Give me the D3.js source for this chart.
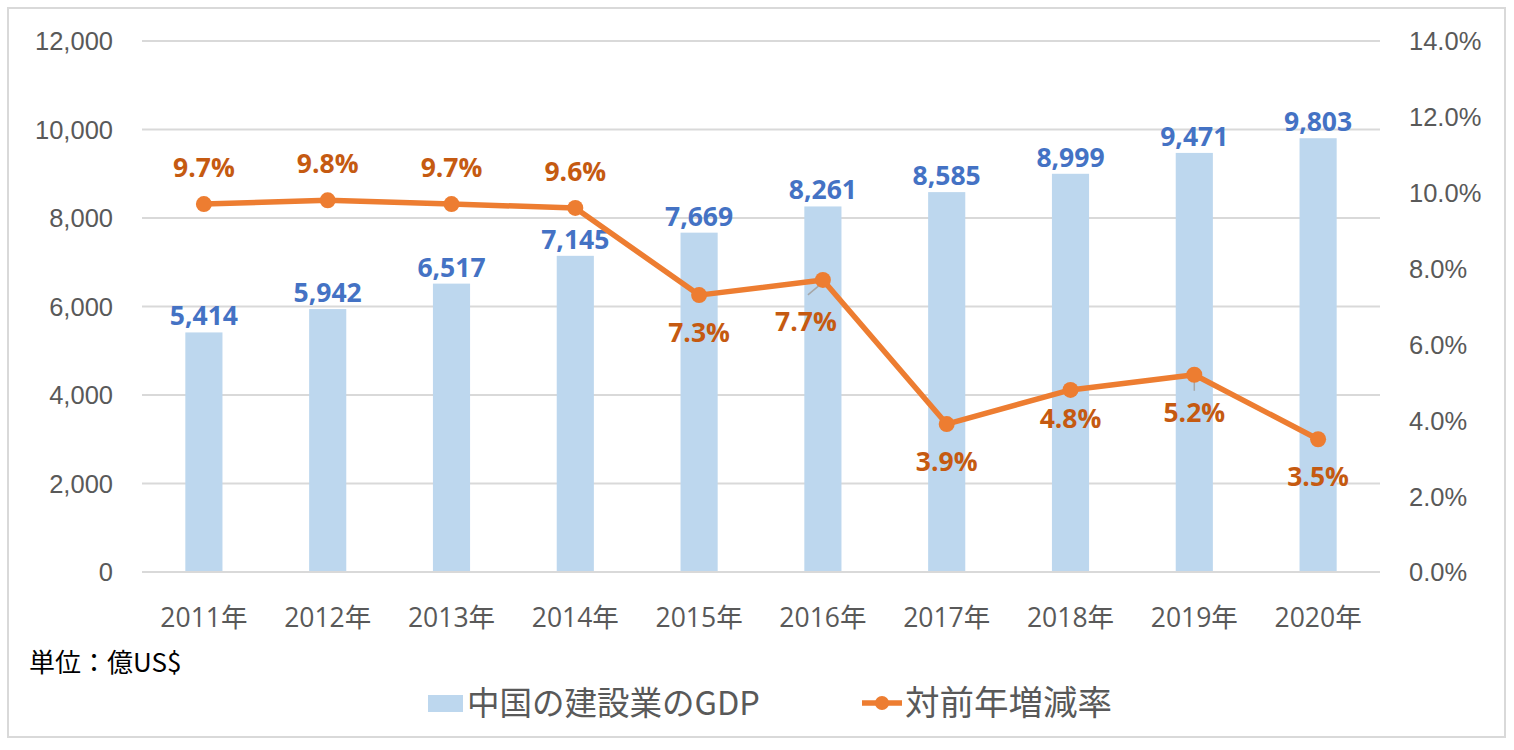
<!DOCTYPE html>
<html><head><meta charset="utf-8">
<script src="https://cdn.jsdelivr.net/npm/d3@7"></script>
<style>
html,body{margin:0;padding:0;background:#fff;}
svg{display:block;font-family:"Open Sans","Noto Sans CJK JP",sans-serif;}
</style></head>
<body>
<svg id="chart" width="1514" height="750"></svg>
<script>
const categories = ["2011年","2012年","2013年","2014年","2015年","2016年","2017年","2018年","2019年","2020年"];
const gdpValues = [5414,5942,6517,7145,7669,8261,8585,8999,9471,9803];
const rateValues = [9.7,9.8,9.7,9.6,7.3,7.7,3.9,4.8,5.2,3.5];
const leftTicks = [0,2000,4000,6000,8000,10000,12000];
const rightTicks = [0,2,4,6,8,10,12,14];
const rateLabelAbove = [true,true,true,true,false,false,false,false,false,false];
const seriesNames = ["中国の建設業のGDP","対前年増減率"];
const unitText = "単位：億US$";

const svg = d3.select("#chart");
const W = 1514, H = 750;
const m = {left:142, right:134, top:41, bottom:178};
const x0 = m.left, x1 = W - m.right, yTop = m.top, yBot = H - m.bottom;

svg.append("rect").attr("x",8).attr("y",8).attr("width",1497).attr("height",729)
  .attr("fill","#fff").attr("stroke","#D9D9D9").attr("stroke-width",2);

const x = d3.scaleBand().domain(categories).range([x0,x1]).paddingInner(0.7).paddingOuter(0.35);
const yL = d3.scaleLinear().domain([0,12000]).range([yBot,yTop]);
const yR = d3.scaleLinear().domain([0,14]).range([yBot,yTop]);

// gridlines
svg.append("g").selectAll("line").data(leftTicks).join("line")
  .attr("x1",x0).attr("x2",x1).attr("y1",d=>yL(d)).attr("y2",d=>yL(d))
  .attr("stroke","#D9D9D9").attr("stroke-width",2);

// left axis
const axL = svg.append("g").attr("transform",`translate(${x0},0)`)
  .call(d3.axisLeft(yL).tickValues(leftTicks).tickFormat(d3.format(",")).tickSize(0).tickPadding(29));
axL.select(".domain").remove();
axL.selectAll("text").attr("fill","#595959").style("font-size","25.5px").attr("dy","0.35em");

// right axis
const axR = svg.append("g").attr("transform",`translate(${x1},0)`)
  .call(d3.axisRight(yR).tickValues(rightTicks).tickFormat(d=>d.toFixed(1)+"%").tickSize(0).tickPadding(29));
axR.select(".domain").remove();
axR.selectAll("text").attr("fill","#595959").style("font-size","25.5px").attr("dy","0.35em");

// bottom axis
const axB = svg.append("g").attr("transform",`translate(0,${yBot})`)
  .call(d3.axisBottom(x).tickSize(0).tickPadding(36));
axB.select(".domain").remove();
axB.selectAll("text").attr("fill","#595959").style("font-size","26.5px")
  .style("font-family","'Open Sans','Noto Sans CJK JP',sans-serif");

// bars
svg.append("g").selectAll("rect").data(gdpValues).join("rect")
  .attr("x",(d,i)=>x(categories[i])).attr("width",x.bandwidth())
  .attr("y",d=>yL(d)).attr("height",d=>yBot-yL(d)).attr("fill","#BDD7EE");

// bar labels
svg.append("g").selectAll("text").data(gdpValues).join("text")
  .attr("x",(d,i)=>x(categories[i])+x.bandwidth()/2).attr("y",d=>yL(d)-7)
  .attr("text-anchor","middle").attr("fill","#4472C4").attr("font-weight","bold")
  .style("font-size","26.5px").text(d=>d3.format(",")(d));

// baseline over bars
svg.append("line").attr("x1",x0).attr("x2",x1).attr("y1",yBot).attr("y2",yBot)
  .attr("stroke","#D9D9D9").attr("stroke-width",2);

const cx = i => x(categories[i]) + x.bandwidth()/2;

// line
const line = d3.line().x((d,i)=>cx(i)).y(d=>yR(d));
svg.append("path").datum(rateValues).attr("d",line).attr("fill","none")
  .attr("stroke","#ED7D31").attr("stroke-width",5.5).attr("stroke-linejoin","round");

// leader lines (2016, 2019)
svg.append("line").attr("x1",cx(5)-3).attr("y1",yR(rateValues[5])+5).attr("x2",cx(5)-15).attr("y2",yR(rateValues[5])+15)
  .attr("stroke","#A6A6A6").attr("stroke-width",1.5);
svg.append("line").attr("x1",cx(8)).attr("y1",yR(rateValues[8])+3).attr("x2",cx(8)).attr("y2",yR(rateValues[8])+16)
  .attr("stroke","#A6A6A6").attr("stroke-width",1.5);

svg.append("g").selectAll("circle").data(rateValues).join("circle")
  .attr("cx",(d,i)=>cx(i)).attr("cy",d=>yR(d)).attr("r",8).attr("fill","#ED7D31");

// rate labels
svg.append("g").selectAll("text").data(rateValues).join("text")
  .attr("x",(d,i)=>cx(i) + (i===5 ? -17 : 0))
  .attr("y",(d,i)=>{
    if (rateLabelAbove[i]) return yR(d)-27;
    if (i===5) return yR(d)+51;
    if (i===7) return yR(d)+38;
    return yR(d)+47;
  })
  .attr("text-anchor","middle").attr("fill","#C55A11").attr("font-weight","bold")
  .style("font-size","26.5px").text(d=>d.toFixed(1)+"%");

// unit text
svg.append("text").attr("x",29).attr("y",672).attr("fill","#000")
  .style("font-size","26px").style("font-family","'Noto Sans CJK JP',sans-serif").text(unitText);

// legend
const lg = svg.append("g");
lg.append("rect").attr("x",428).attr("y",695).attr("width",35).attr("height",17).attr("fill","#BDD7EE");
lg.append("text").attr("x",467).attr("y",715).attr("fill","#595959")
  .style("font-size","32.5px").style("font-family","'Noto Sans CJK JP',sans-serif").text(seriesNames[0]);
lg.append("line").attr("x1",862).attr("x2",902).attr("y1",703).attr("y2",703)
  .attr("stroke","#ED7D31").attr("stroke-width",5.5);
lg.append("circle").attr("cx",882).attr("cy",703).attr("r",7).attr("fill","#ED7D31");
lg.append("text").attr("x",905).attr("y",715).attr("fill","#595959")
  .style("font-size","34.5px").style("font-family","'Noto Sans CJK JP',sans-serif").text(seriesNames[1]);
</script>
</body></html>
